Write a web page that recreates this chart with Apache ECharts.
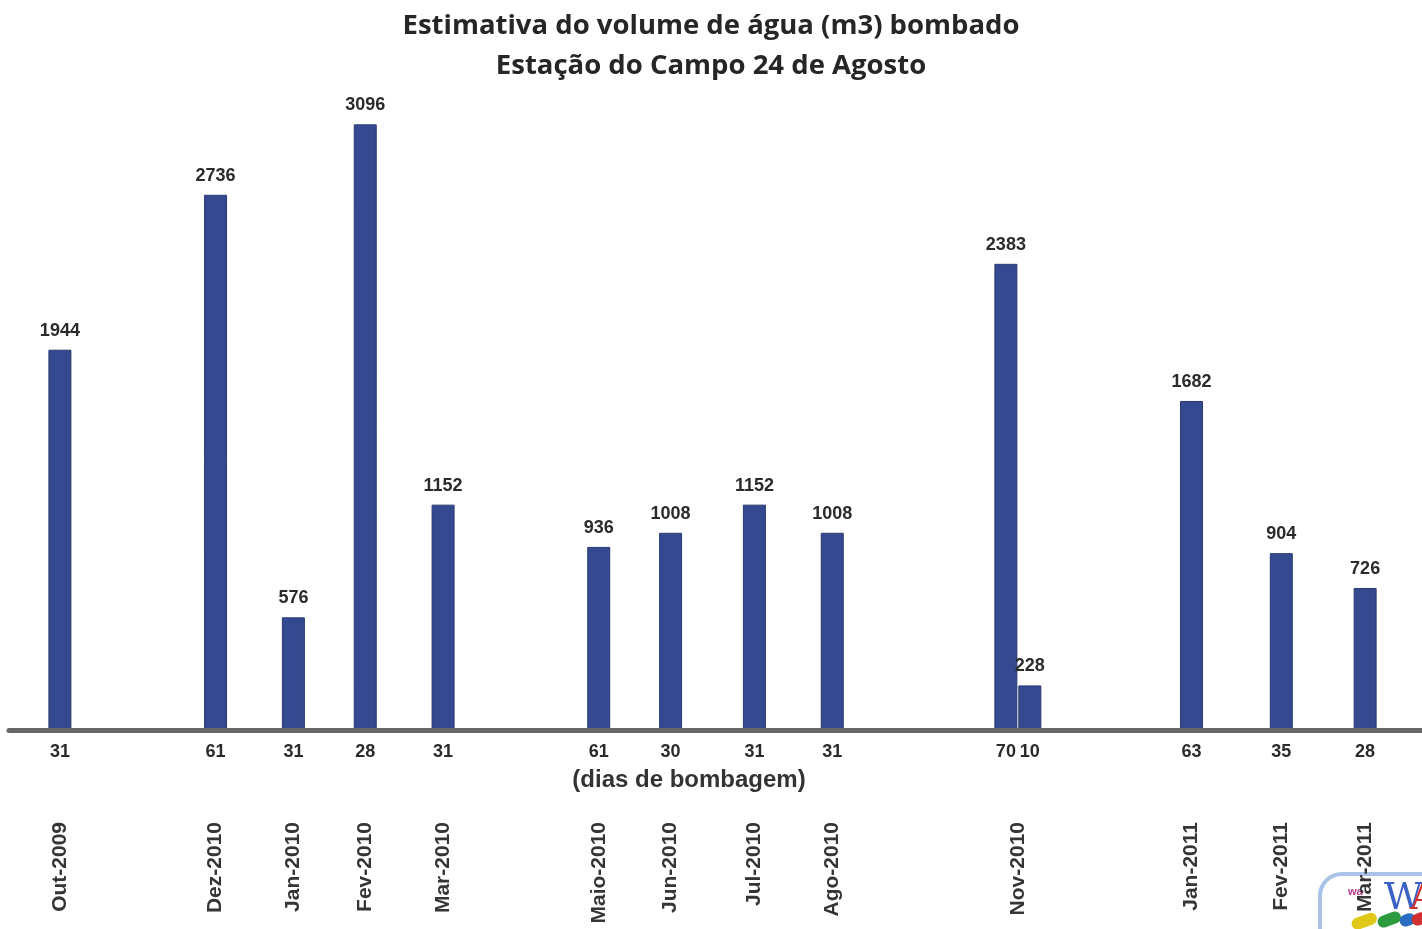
<!DOCTYPE html>
<html>
<head>
<meta charset="utf-8">
<script src="https://cdn.jsdelivr.net/npm/echarts@6/dist/echarts.min.js"></script>
<style>
  html, body { margin: 0; padding: 0; background: #ffffff; }
  #chart { width: 1422px; height: 929px; }
</style>
</head>
<body>
<div id="chart"></div>
<script>
// Pumped volume per period (m3), pumping days and month of each period
const months = ['Out-2009', 'Dez-2010', 'Jan-2010', 'Fev-2010', 'Mar-2010', 'Maio-2010', 'Jun-2010',
                'Jul-2010', 'Ago-2010', 'Nov-2010', 'Nov-2010', 'Jan-2011', 'Fev-2011', 'Mar-2011'];
const days = [31, 61, 31, 28, 31, 61, 30, 31, 31, 70, 10, 63, 35, 28];
const volumes = [1944, 2736, 576, 3096, 1152, 936, 1008, 1152, 1008, 2383, 228, 1682, 904, 726];

// Layout: the x axis is a fine grid of narrow slots; each bar sits in one slot
const barSlot = [8, 34, 47, 59, 72, 98, 110, 124, 137, 166, 170, 197, 212, 226];
const slotCount = 236;

const slotIds = [];
const dayText = [];
const monthText = [];
const barData = [];
for (let s = 0; s < slotCount; s++) {
  slotIds.push('s' + s);
  dayText.push('');
  monthText.push('');
  barData.push('-');
}
barSlot.forEach(function (slot, i) {
  dayText[slot] = String(days[i]);
  barData[slot] = volumes[i];
});
// one month label per month, centred under all bars of that month
let i = 0;
while (i < months.length) {
  let j = i;
  while (j + 1 < months.length && months[j + 1] === months[i]) j++;
  monthText[Math.round((barSlot[i] + barSlot[j]) / 2)] = months[i];
  i = j + 1;
}

const chart = echarts.init(document.getElementById('chart'));
chart.setOption({
  backgroundColor: '#ffffff',
  animation: false,
  title: {
    text: 'Estimativa do volume de água (m3) bombado\nEstação do Campo 24 de Agosto',
    left: 'center',
    top: 1,
    textStyle: {
      fontFamily: 'Open Sans',
      fontWeight: 'bold',
      fontSize: 27.5,
      lineHeight: 40,
      color: '#262626'
    }
  },
  grid: {
    left: 9,
    right: 0,
    top: 104,
    bottom: 199,
    containLabel: false,
    outerBoundsMode: 'none'
  },
  xAxis: [
    {
      type: 'category',
      data: slotIds,
      z: 3,
      axisLine: { show: true, lineStyle: { color: '#676767', width: 5 } },
      axisTick: { show: false },
      splitLine: { show: false },
      axisLabel: {
        interval: 0,
        margin: 13,
        fontFamily: 'Liberation Sans',
        fontWeight: 'bold',
        fontSize: 18,
        color: '#2b2b2b',
        formatter: function (v, idx) { return dayText[idx]; }
      }
    },
    {
      type: 'category',
      data: slotIds,
      position: 'bottom',
      gridIndex: 0,
      axisLine: { show: false },
      axisTick: { show: false },
      splitLine: { show: false },
      axisLabel: {
        interval: 0,
        rotate: 90,
        margin: 92,
        fontFamily: 'Liberation Sans',
        fontWeight: 'bold',
        fontSize: 21,
        color: '#353535',
        formatter: function (v, idx) { return monthText[idx]; }
      }
    }
  ],
  yAxis: {
    type: 'value',
    min: 0,
    max: 3200,
    show: false,
    splitLine: { show: false }
  },
  series: [
    {
      type: 'bar',
      data: barData,
      barWidth: 23,
      itemStyle: { color: '#34498f', borderColor: '#2a3a72', borderWidth: 1 },
      label: {
        show: true,
        position: 'top',
        distance: 10,
        fontFamily: 'Liberation Sans',
        fontWeight: 'bold',
        fontSize: 18,
        color: '#2b2b2b'
      }
    }
  ],
  graphic: [
    {
      type: 'text',
      x: 689,
      y: 780,
      style: {
        text: '(dias de bombagem)',
        font: 'bold 24px "Liberation Sans"',
        fill: '#333333',
        align: 'center',
        verticalAlign: 'middle'
      }
    },
    {
      type: 'group',
      z: -10,
      children: [
        {
          type: 'rect',
          shape: { x: 1320, y: 874, width: 140, height: 100, r: 22 },
          style: { fill: '#ffffff', stroke: '#a9c3e8', lineWidth: 4 }
        },
        {
          type: 'text',
          x: 1384, y: 880,
          style: { text: 'W', font: '38px "DejaVu Serif"', fill: '#3b62c4' }
        },
        {
          type: 'text',
          x: 1410, y: 880,
          style: { text: 'A', font: '38px "DejaVu Serif"', fill: '#d43030' }
        },
        {
          type: 'text',
          x: 1348, y: 886,
          style: { text: 'wa', font: 'bold 11px "Liberation Sans"', fill: '#c03a8a' }
        },
        {
          type: 'rect', x: 1350, y: 920, rotation: 0.35,
          shape: { x: 0, y: 0, width: 26, height: 12, r: 6 },
          style: { fill: '#e0c818' }
        },
        {
          type: 'rect', x: 1376, y: 918, rotation: 0.35,
          shape: { x: 0, y: 0, width: 24, height: 12, r: 6 },
          style: { fill: '#2e9a3e' }
        },
        {
          type: 'rect', x: 1398, y: 917, rotation: 0.35,
          shape: { x: 0, y: 0, width: 16, height: 12, r: 6 },
          style: { fill: '#2a6cc0' }
        },
        {
          type: 'rect', x: 1410, y: 916, rotation: 0.35,
          shape: { x: 0, y: 0, width: 16, height: 12, r: 6 },
          style: { fill: '#d23030' }
        }
      ]
    }
  ]
});
</script>
</body>
</html>
